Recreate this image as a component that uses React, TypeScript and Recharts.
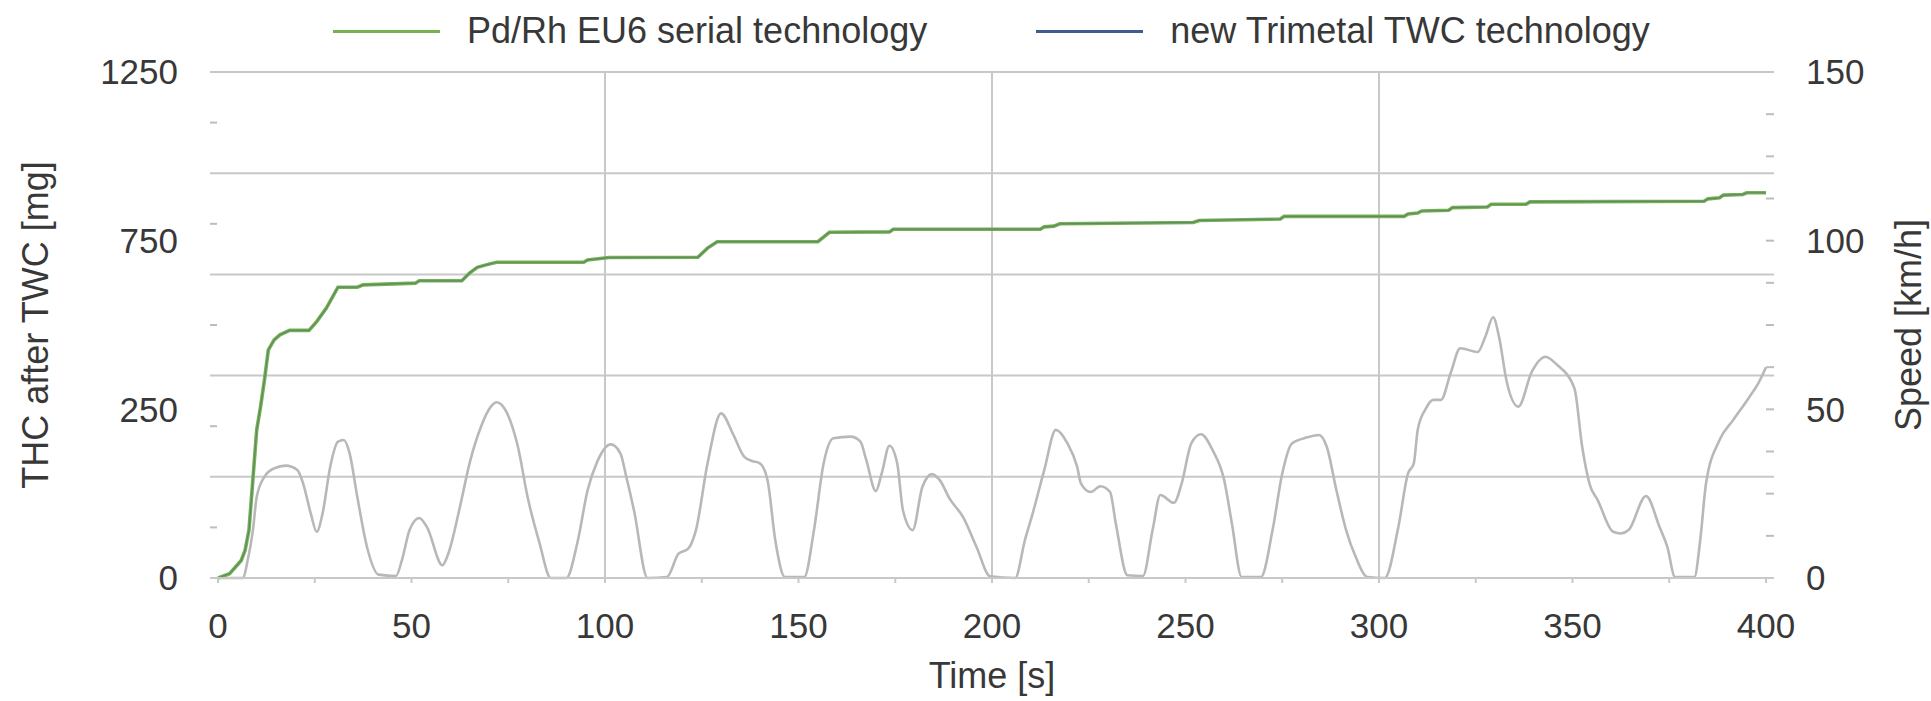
import React from 'react';
import { LineChart, Line, XAxis, YAxis, ReferenceLine, Legend } from 'recharts';

// cumulative THC after TWC, [time s, mg] (left axis)
const thcPdRh: [number, number][] = [
  [0, -250], [3, -237], [6, -198], [7, -168], [8, -108], [9, 40], [10, 189], [11, 258], [12, 337], [13, 426],
  [14.5, 456], [16, 471], [18.5, 484], [23.5, 484], [25.5, 510], [28, 550], [31, 612], [36, 612], [37.5, 619], [51, 624],
  [52, 631], [63, 631], [65, 654], [67, 671], [69.5, 679], [72, 686], [94.5, 686], [95.5, 693], [101, 700], [124, 701],
  [126.5, 728], [129, 747], [155, 747], [158, 775], [173.5, 776], [174.5, 784], [212.5, 784], [213.5, 791], [216, 793], [217.5, 800],
  [252, 804], [253.5, 810], [274.5, 814], [275.5, 822], [306.5, 822], [307.5, 829], [310, 832], [311, 838], [318, 840], [319, 848],
  [328, 850], [329, 858], [338, 858], [339, 865], [384, 867], [385, 874], [388, 877], [389, 885], [394, 887], [395, 892],
  [400, 892],
];

// vehicle speed, [time s, km/h] (right axis)
const vehicleSpeed: [number, number][] = [
  [0, 0], [6.5, 0], [7.5, 4.3], [9, 14], [10, 24], [12, 30], [14.5, 32.5], [17.5, 33.3], [20.5, 32], [22, 28],
  [24, 19], [25.5, 13.7], [27, 19], [29, 33], [31, 40.4], [32.5, 40.9], [34, 37], [36, 24], [38.5, 9.2], [41.5, 1],
  [46, 0.6], [47.5, 5.2], [49.5, 14.2], [52, 17.8], [54, 15.1], [58, 3.8], [59.5, 7.2], [62.5, 21], [65, 34], [68, 45],
  [70.5, 50.8], [72, 52.1], [74.5, 49.3], [77.5, 38.9], [80, 24], [83, 10.7], [86, 0], [90, 0], [93, 11.2], [95.5, 26],
  [98, 34.5], [101.5, 39.6], [104, 36.9], [105.5, 30], [107.5, 20], [111, 0], [116, 0.3], [119, 7.2], [121.5, 8.7], [123.5, 14.2],
  [126.5, 34], [130, 48.8], [133, 42.9], [136, 35.9], [138, 34.7], [140, 34], [142, 29], [144, 11.2], [146.5, 0.3], [151.5, 0.3],
  [154, 14.2], [156.5, 34], [159, 41.4], [163.5, 41.9], [166, 40.4], [167.5, 35], [170, 25.8], [171.5, 31], [173.5, 39.2], [175.5, 34],
  [177, 20], [179.5, 14.2], [182, 27], [184.5, 30.8], [186.5, 29], [189, 23.6], [192.5, 18.1], [196, 9.2], [199.5, 0.5], [206, 0],
  [208.5, 11.2], [210.5, 19.1], [213.5, 32], [216.5, 43.9], [219.5, 39.9], [222, 33], [223, 28], [225.5, 25.5], [228, 27.2], [230.5, 25.5],
  [232, 16.1], [235, 0.8], [239, 0.6], [241.5, 14.2], [243.5, 24.6], [247, 22.3], [249, 28], [251.5, 39.9], [254, 42.6], [257, 37.9],
  [260, 29], [262, 16.1], [264.5, 0.3], [269.5, 0.3], [272.5, 14.2], [275, 31], [277.5, 39.9], [281.5, 41.7], [284.5, 42.4], [286.5, 38.9],
  [289, 26], [291.5, 14.2], [294, 6.2], [297, 0.3], [301.5, 0], [305, 15.1], [307.5, 31], [309, 34], [310, 43.9], [312, 50],
  [314, 52.8], [316, 52.8], [318.5, 60.7], [321, 68.1], [325.5, 67], [327.5, 71.6], [329.5, 77.3], [331, 71.6], [333, 58.2], [336, 50.8],
  [339.5, 61.2], [343, 65.6], [346, 63.2], [350.5, 56.2], [352.5, 38.9], [354.5, 27.5], [356.5, 23.1], [360.5, 13.7], [362.5, 13.2], [364.5, 14.2],
  [369, 24.3], [372.5, 15.1], [374.5, 9.2], [376.5, 0.3], [381.5, 0.3], [383, 11.2], [384.5, 28], [388, 40.9], [391.5, 46.8], [395.5, 53.3],
  [398, 57.7], [400, 62.5],
];

const timeTicks = [0, 25, 50, 75, 100, 125, 150, 175, 200, 225, 250, 275, 300, 325, 350, 375, 400];
const timeGrid = [100, 200, 300];
const thcTicks = [-250, 250, 750, 1250];
const thcTickLabels = ['0', '250', '750', '1250'];
const thcMinorTicks = [15, 45, 75, 105, 135]; // on the speed scale
const speedTicks = [0, 50, 100, 150];
const speedMinorTicks = [12.5, 25, 37.5, 50, 62.5, 75, 87.5, 100, 112.5, 125, 137.5];
const speedGrid = [0, 30, 60, 90, 120, 150];

const seriesNames = ['Pd/Rh EU6 serial technology', 'new Trimetal TWC technology'];
const seriesColors = ['#78b24f', '#3f5d8c'];

const FONT = '"Liberation Sans", Arial, sans-serif';
const TEXT = '#383838';
const GRID = '#c8c8c8';

const thcData = thcPdRh.map(([t, v]) => ({ t, v }));
const speedData = vehicleSpeed.map(([t, v]) => ({ t, v }));

const renderLegend = () => (
  <div style={{ display: 'flex', alignItems: 'center', paddingLeft: 333, paddingTop: 13, fontFamily: FONT, fontSize: 36, color: TEXT, lineHeight: '36px' }}>
    {seriesNames.map((name, i) => (
      <div key={name} style={{ display: 'flex', alignItems: 'center', marginRight: 109 }}>
        <div style={{ width: 107, height: 3, background: seriesColors[i], marginRight: 27 }} />
        <span style={{ whiteSpace: 'nowrap' }}>{name}</span>
      </div>
    ))}
  </div>
);

const rotatedTitle = (text: string, x: number, y: number) => () => (
  <text x={x} y={y} transform={`rotate(-90, ${x}, ${y})`} textAnchor="middle" dominantBaseline="central"
    fill={TEXT} fontSize={36} fontFamily={FONT}>{text}</text>
);

const noLabel = () => <g />;

export default function App() {
  const tickStyle = { fill: TEXT, fontSize: 35, fontFamily: FONT };
  return (
    <div style={{ position: 'absolute', left: 0, top: 0, background: '#fff' }}>
      <LineChart width={1931} height={701} margin={{ top: 72, right: 0, bottom: 0, left: 0 }} style={{ fontFamily: FONT }}>
        <XAxis type="number" dataKey="t" domain={[0, 400]} ticks={timeTicks} interval={0}
          padding={{ left: 8, right: 8 }} height={123}
          tickFormatter={(v) => (v % 50 === 0 ? String(v) : '')}
          tick={tickStyle} tickSize={5} tickMargin={30}
          axisLine={{ stroke: GRID, strokeWidth: 2 }} tickLine={{ stroke: GRID, strokeWidth: 2 }}
          label={{ content: () => (
            <text x={992} y={688} textAnchor="middle" fill={TEXT} fontSize={36} fontFamily={FONT}>Time [s]</text>
          ) }} />
        <YAxis yAxisId="thc" orientation="left" width={210} domain={[-250, 1250]} ticks={thcTicks} interval={0}
          tickFormatter={(v) => thcTickLabels[thcTicks.indexOf(v)] ?? ''}
          tick={tickStyle} tickSize={0} tickMargin={32} axisLine={false} tickLine={false}
          label={{ content: rotatedTitle('THC after TWC [mg]', 35, 325) }} />
        <YAxis yAxisId="speed" orientation="right" width={157} domain={[0, 150]} ticks={speedTicks} interval={0}
          tick={tickStyle} tickSize={0} tickMargin={32} axisLine={false} tickLine={false}
          label={{ content: rotatedTitle('Speed [km/h]', 1908, 325) }} />
        <YAxis yAxisId="thcMinor" orientation="left" mirror type="number" domain={[0, 150]} allowDataOverflow
          ticks={thcMinorTicks} interval={0}
          tick={noLabel} axisLine={false} tickSize={7} tickLine={{ stroke: '#bdbdbd', strokeWidth: 2 }} />
        <YAxis yAxisId="speedMinor" orientation="right" mirror type="number" domain={[0, 150]} allowDataOverflow
          ticks={speedMinorTicks} interval={0}
          tick={noLabel} axisLine={false} tickSize={8} tickLine={{ stroke: '#bdbdbd', strokeWidth: 2 }} />

        {speedGrid.map((v) => (
          <ReferenceLine key={`h${v}`} yAxisId="speed" y={v} stroke={GRID} strokeWidth={2} />
        ))}
        {timeGrid.map((v) => (
          <ReferenceLine key={`v${v}`} yAxisId="speed" x={v} stroke={GRID} strokeWidth={2} />
        ))}

        <Legend verticalAlign="middle" content={renderLegend}
          wrapperStyle={{ top: 0, left: 0, width: 1931, height: 60 }} />

        <Line yAxisId="speed" data={speedData} dataKey="v" name="Speed" type="monotone"
          stroke="#b8b8b8" strokeWidth={2.6} dot={false} activeDot={false} legendType="none" isAnimationActive={false} />
        <Line yAxisId="thc" data={thcData} dataKey="v" name={seriesNames[0]} type="linear"
          stroke={seriesColors[0]} strokeWidth={3.6} dot={false} activeDot={false} isAnimationActive={false} />
        <Line yAxisId="thc" data={thcData} dataKey="v" name={seriesNames[1]} type="linear"
          stroke={seriesColors[1]} strokeOpacity={0.5} strokeWidth={1.2} dot={false} activeDot={false} isAnimationActive={false} />
      </LineChart>
    </div>
  );
}
